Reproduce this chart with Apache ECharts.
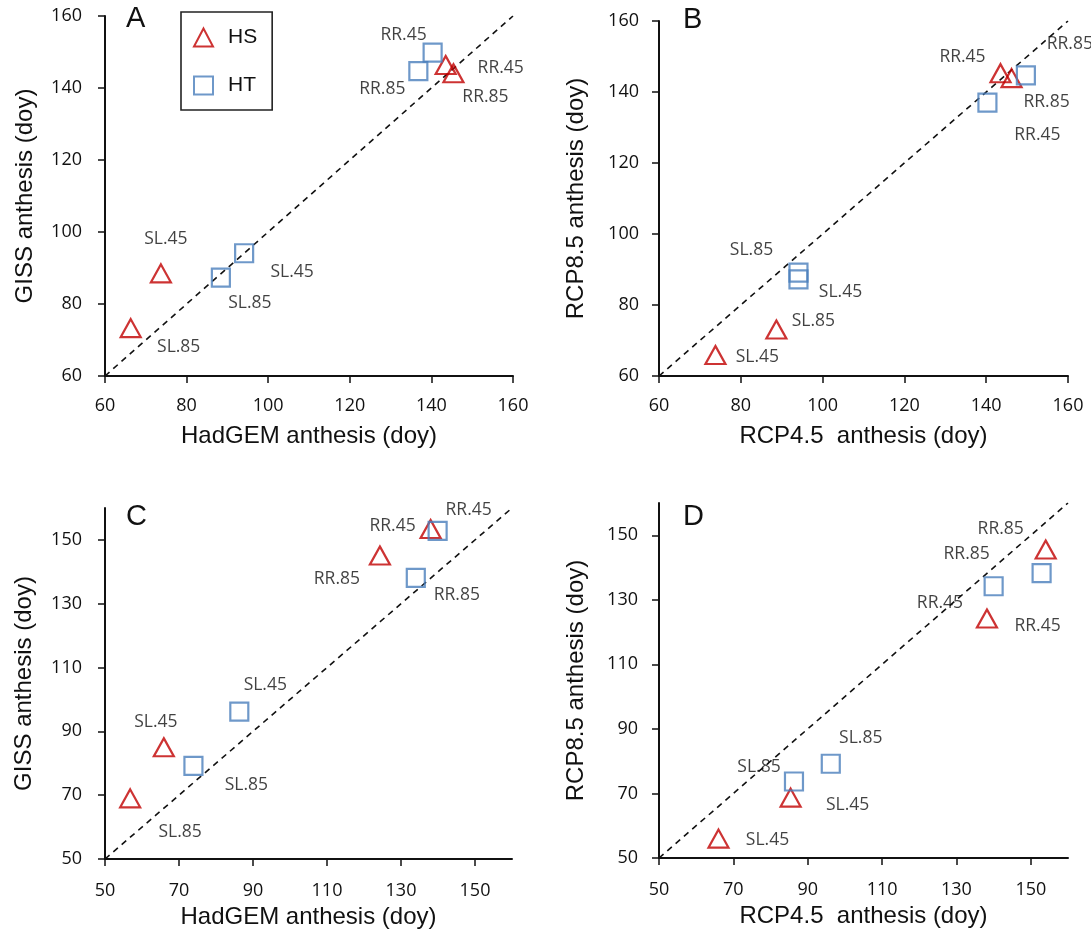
<!DOCTYPE html>
<html>
<head>
<meta charset="utf-8">
<script src="https://cdn.jsdelivr.net/npm/echarts@6/dist/echarts.min.js"></script>
<style>
  html, body { margin: 0; padding: 0; background: #fff; }
  #chart { width: 1091px; height: 936px; }
</style>
</head>
<body>
<div id="chart"></div>
<script>
// ---------------- DATA ----------------
const panelLetters = ['A', 'B', 'C', 'D'];
const xAxisTitles = ['HadGEM anthesis (doy)', 'RCP4.5  anthesis (doy)', 'HadGEM anthesis (doy)', 'RCP4.5  anthesis (doy)'];
const yAxisTitles = ['GISS anthesis (doy)', 'RCP8.5 anthesis (doy)', 'GISS anthesis (doy)', 'RCP8.5 anthesis (doy)'];
const ticksTop = [60, 80, 100, 120, 140, 160];
const ticksBottom = [50, 70, 90, 110, 130, 150];
const rangeTop = [60, 160];
const rangeBottom = [50, 160];
const seriesNames = ['HS', 'HT'];

// Panel A: HadGEM (x) vs GISS (y)
const hsA_x = [73.7, 66.3, 143.5, 145.4];
const hsA_y = [88.5, 73.3, 146.4, 144.1];
const hsA_lab = ['SL.45', 'SL.85', 'RR.45', 'RR.85'];
const htA_x = [94.1, 88.4, 140.3, 136.8];
const htA_y = [94.1, 87.3, 149.8, 144.7];
const htA_lab = ['SL.45', 'SL.85', 'RR.45', 'RR.85'];

// Panel B: RCP4.5 (x) vs RCP8.5 (y)
const hsB_x = [73.8, 88.7, 143.5, 146.2];
const hsB_y = [65.9, 73.1, 145.3, 143.9];
const hsB_lab = ['SL.45', 'SL.85', 'RR.45', 'RR.85'];
const htB_x = [94.1, 94.1, 149.7, 140.3];
const htB_y = [89.1, 87.2, 144.7, 137.0];
const htB_lab = ['SL.85', 'SL.45', 'RR.85', 'RR.45'];

// Panel C: HadGEM (x) vs GISS (y)
const hsC_x = [56.8, 65.9, 124.3, 138.0];
const hsC_y = [69.0, 85.0, 145.1, 153.4];
const hsC_lab = ['SL.85', 'SL.45', 'RR.85', 'RR.45'];
const htC_x = [73.9, 86.3, 134.0, 139.9];
const htC_y = [79.2, 96.2, 138.1, 152.8];
const htC_lab = ['SL.85', 'SL.45', 'RR.85', 'RR.45'];

// Panel D: RCP4.5 (x) vs RCP8.5 (y)
const hsD_x = [66.0, 85.4, 138.2, 154.0];
const hsD_y = [56.0, 68.7, 124.2, 145.6];
const hsD_lab = ['SL.45', 'SL.45', 'RR.45', 'RR.85'];
const htD_x = [86.3, 96.2, 140.0, 152.9];
const htD_y = [73.7, 79.2, 134.2, 138.3];
const htD_lab = ['SL.85', 'SL.85', 'RR.85', 'RR.45'];

// ---------------- LAYOUT / STYLE ----------------
const grids = [
  { left: 105, top: 16, width: 408, height: 360 },
  { left: 659, top: 21, width: 409, height: 355 },
  { left: 105, top: 508, width: 407, height: 351 },
  { left: 659, top: 503, width: 409, height: 355 }
];
// label offsets (px) of the point annotations, per panel, [HS, HT]
const labelOffsets = [
  [[[5, -34], [48, 19], [55, 3], [32, 24]], [[48, 19], [29, 25], [-29, -18], [-36, 18]]],
  [[[42, 2], [37, -8], [-38, -16], [35, 24]], [[-47, -23], [42, 13], [44, -31], [50, 32]]],
  [[[50, 34], [-8, -25], [-43, 23], [-38, -3]], [[53, 19], [26, -27], [41, 17], [31, -21]]],
  [[[49, 1], [57, 7], [-47, -16], [-45, -20]], [[-35, -14], [30, -26], [-27, -32], [-4, 53]]]
];
const letterPos = [[126, 4], [683, 5], [126, 502], [683, 502]];
const xNameGap = [48, 48, 46, 46];
const yNameGap = [68, 71, 69, 71];
const xLabelMargin = [21, 21, 23, 23];
const yLabelMargin = [23, 20, 23, 21];

const RED = '#c00000';
const BLUE = '#4a7ebb';
const INK = '#111';
const TEXT = '#111';
const labelFont = '"Open Sans", sans-serif';
const titleFont = '"Liberation Sans", Arial, sans-serif';

const panelData = [
  [[hsA_x, hsA_y, hsA_lab], [htA_x, htA_y, htA_lab]],
  [[hsB_x, hsB_y, hsB_lab], [htB_x, htB_y, htB_lab]],
  [[hsC_x, hsC_y, hsC_lab], [htC_x, htC_y, htC_lab]],
  [[hsD_x, hsD_y, hsD_lab], [htD_x, htD_y, htD_lab]]
];

const chart = echarts.init(document.getElementById('chart'), null, { renderer: 'canvas' });

const xAxes = [], yAxes = [], series = [], titles = [];
for (let i = 0; i < 4; i++) {
  const isTop = i < 2;
  const range = isTop ? rangeTop : rangeBottom;
  const ticks = isTop ? ticksTop : ticksBottom;
  const common = {
    type: 'value',
    gridIndex: i,
    min: range[0],
    max: range[1],
    interval: 20,
    splitLine: { show: false },
    axisLine: { show: true, onZero: false, lineStyle: { color: INK, width: 2 } },
    axisTick: { show: true, inside: false, length: 7, customValues: ticks, lineStyle: { color: INK, width: 1.5 } },
    nameLocation: 'middle',
    nameTextStyle: { fontFamily: titleFont, fontSize: 24, color: TEXT }
  };
  xAxes.push(Object.assign({}, common, {
    name: xAxisTitles[i],
    nameGap: xNameGap[i],
    axisLabel: { customValues: ticks, margin: xLabelMargin[i], fontFamily: labelFont, fontSize: 18, color: TEXT }
  }));
  yAxes.push(Object.assign({}, common, {
    name: yAxisTitles[i],
    nameGap: yNameGap[i],
    nameRotate: 90,
    axisLabel: { customValues: ticks, margin: yLabelMargin[i], fontFamily: labelFont, fontSize: 18, color: TEXT }
  }));

  // 1:1 dashed reference line
  series.push({
    type: 'line',
    xAxisIndex: i, yAxisIndex: i,
    data: [[range[0], range[0]], [range[1], range[1]]],
    symbol: 'none',
    silent: true,
    lineStyle: { color: INK, width: 1.6, type: [6, 5] },
    z: 1
  });

  for (let s = 0; s < 2; s++) {
    const [xs, ys, labs] = panelData[i][s];
    const offs = labelOffsets[i][s];
    series.push({
      name: seriesNames[s],
      type: 'scatter',
      xAxisIndex: i, yAxisIndex: i,
      symbol: s === 0 ? 'triangle' : 'rect',
      symbolSize: s === 0 ? [20, 18] : [18, 18],
      itemStyle: { color: 'rgba(255,255,255,0)', borderColor: s === 0 ? RED : BLUE, borderWidth: 2.2 },
      emphasis: { disabled: true },
      z: 3,
      label: {
        show: true,
        position: 'inside',
        formatter: '{b}',
        fontFamily: labelFont,
        fontSize: 17.5,
        color: TEXT
      },
      data: xs.map((x, k) => ({
        name: labs[k],
        value: [x, ys[k]],
        label: { offset: offs[k] }
      }))
    });
  }

  titles.push({
    text: panelLetters[i],
    left: letterPos[i][0],
    top: letterPos[i][1],
    padding: 0,
    textStyle: { fontFamily: titleFont, fontSize: 29, fontWeight: 'normal', color: TEXT }
  });
}

chart.setOption({
  animation: false,
  backgroundColor: '#fff',
  title: titles,
  grid: grids,
  xAxis: xAxes,
  yAxis: yAxes,
  legend: {
    data: seriesNames,
    orient: 'vertical',
    left: 181,
    top: 12,
    padding: [15, 15, 14, 12],
    itemWidth: 19,
    itemHeight: 18,
    itemGap: 27,
    borderColor: '#222',
    borderWidth: 1.6,
    selectedMode: false,
    textStyle: { fontFamily: titleFont, fontSize: 21, color: TEXT, padding: [0, 0, 0, 10] }
  },
  series: series
});
</script>
</body>
</html>
